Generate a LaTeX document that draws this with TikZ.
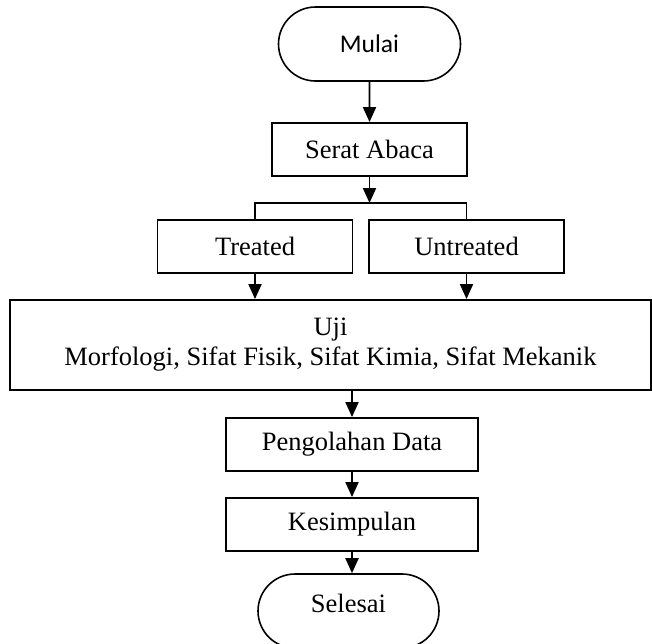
\documentclass[tikz,border=0pt]{standalone}
\usepackage{fontspec}
\setmainfont{Liberation Serif}
\newfontfamily\calibri{Carlito}
\usetikzlibrary{shapes.misc, arrows.meta}
\tikzstyle{terminal} = [rounded rectangle, draw, line width = 1.6pt, minimum width = 182pt, minimum height = 74pt, inner sep = 0pt]
\tikzstyle{process} = [rectangle, draw, line width = 1.9pt, minimum height = 53pt, inner sep = 0pt, font = \fontsize{26.5}{30}\selectfont]
\tikzstyle{flow} = [line width = 1.9pt, -{Triangle[width = 13pt, length = 15pt]}]

\begin{document}
\begin{tikzpicture}[x = 1pt, y = -1pt]
    \useasboundingbox (0, 0) rectangle (652, 643);
    \clip (0, 0) rectangle (652, 643);

    \node (mulai) at (369.5, 44) [terminal, font = \calibri\fontsize{25.5}{30}\selectfont] {Mulai};
    \node (serat) at (369.5, 149.5) [process, minimum width = 195pt] {Serat Abaca};
    \coordinate (split) at (369.5, 203);
    \node (treated) at (255, 246.5) [process, minimum width = 195pt] {Treated};
    \node (untreated) at (466.5, 246.5) [process, minimum width = 195pt] {Untreated};
    \node (uji) at (330.5, 345) [process, minimum width = 641pt, minimum height = 90pt, align = center] {Uji\\Morfologi, Sifat Fisik, Sifat Kimia, Sifat Mekanik};
    \node (olah) at (352, 444.5) [process, minimum width = 252pt] {Pengolahan Data};
    \node (simpul) at (352, 524.5) [process, minimum width = 252pt] {Kesimpulan};
    \node (selesai) at (348.5, 611) [terminal, minimum width = 181pt, text depth = 16pt, font = \fontsize{26.5}{30}\selectfont] {Selesai};

    \draw [flow] (mulai) -- (serat);
    \draw [flow] (serat) -- (split);
    \draw [line width = 1.9pt] (treated.north) |- (split) -| (untreated.north);
    \draw [flow] (treated.south) -- (treated.south |- uji.north);
    \draw [flow] (untreated.south) -- (untreated.south |- uji.north);
    \draw [flow] (uji.south -| olah.north) -- (olah.north);
    \draw [flow] (olah) -- (simpul);
    \draw [flow] (simpul) -- (simpul.south |- selesai.north);
\end{tikzpicture}
\end{document}
